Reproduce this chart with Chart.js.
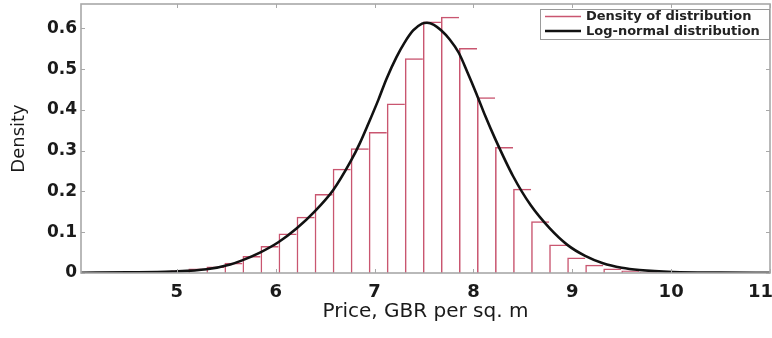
<!DOCTYPE html>
<html><head><meta charset="utf-8">
<script src="https://cdn.jsdelivr.net/npm/chart.js@4.4.1/dist/chart.umd.min.js"></script>
<style>html,body{margin:0;padding:0;background:#fff;}#wrap{width:772px;height:338px;position:relative;}</style>
</head><body><div id="wrap"><canvas id="c"></canvas></div>
<script>
// ---- data ----
const binCenters = [5.025, 5.2075, 5.39, 5.5725, 5.755, 5.9375, 6.12, 6.3025, 6.485, 6.6675,
  6.85, 7.0325, 7.215, 7.3975, 7.58, 7.7625, 7.945, 8.1275, 8.31, 8.4925,
  8.675, 8.8575, 9.04, 9.2225, 9.405, 9.5875, 9.77, 9.9525];
const binDensity = [0.006, 0.011, 0.016, 0.025, 0.042, 0.066, 0.097, 0.138, 0.194, 0.256,
  0.306, 0.346, 0.416, 0.527, 0.617, 0.629, 0.552, 0.431, 0.309, 0.207,
  0.127, 0.070, 0.038, 0.020, 0.011, 0.006, 0.003, 0.0015];
const curveX = [4.03, 4.5, 4.95, 5.30, 5.54, 5.66, 5.84, 6.03, 6.21, 6.39, 6.58, 6.76, 6.85, 6.94,
  7.04, 7.12, 7.22, 7.30, 7.39, 7.48, 7.53, 7.60, 7.67, 7.76, 7.85, 7.94, 8.03, 8.12, 8.22,
  8.40, 8.58, 8.77, 8.95, 9.13, 9.31, 9.50, 9.68, 10.02, 10.5, 11];
const curveY = [0.0007, 0.0015, 0.0035, 0.009, 0.021, 0.031, 0.050, 0.076, 0.109, 0.150, 0.203, 0.275, 0.318, 0.368,
  0.426, 0.476, 0.529, 0.564, 0.595, 0.612, 0.614, 0.609, 0.596, 0.573, 0.541, 0.492, 0.440, 0.385, 0.329,
  0.238, 0.166, 0.110, 0.069, 0.042, 0.024, 0.013, 0.0074, 0.0025, 0.0008, 0.0002];
const xTicks = [5, 6, 7, 8, 9, 10, 11];
const yTicks = [0, 0.1, 0.2, 0.3, 0.4, 0.5, 0.6];
const seriesNames = ['Density of distribution', 'Log-normal distribution'];
const xTitle = 'Price, GBR per sq. m';
const yTitle = 'Density';

const barColor = '#c95670';
const frameColor = '#a8a8a8';

const framePlugin = {
  id: 'frame',
  afterDatasetsDraw(chart) {
    const {ctx, chartArea: a, scales} = chart;
    ctx.save();
    ctx.strokeStyle = frameColor;
    ctx.lineWidth = 1;
    ctx.beginPath();
    xTicks.forEach(v => {
      const px = Math.round(scales.x.getPixelForValue(v)) + 0.5;
      ctx.moveTo(px, a.bottom); ctx.lineTo(px, a.bottom - 4);
      ctx.moveTo(px, a.top); ctx.lineTo(px, a.top + 4);
    });
    yTicks.forEach(v => {
      const py = Math.round(scales.y.getPixelForValue(v)) + 0.5;
      ctx.moveTo(a.left, py); ctx.lineTo(a.left + 4, py);
      ctx.moveTo(a.right, py); ctx.lineTo(a.right - 4, py);
    });
    ctx.stroke();
    ctx.lineWidth = 1.6;
    ctx.strokeRect(a.left, a.top, a.right - a.left, a.bottom - a.top);
    ctx.restore();
  }
};

const legendPlugin = {
  id: 'boxLegend',
  afterDraw(chart) {
    const {ctx} = chart;
    const ds = chart.data.datasets;
    const bx = 540, by = 9, bw = 229, bh = 30;
    ctx.save();
    ctx.fillStyle = '#fff';
    ctx.fillRect(bx, by, bw, bh);
    ctx.strokeStyle = '#9a9a9a';
    ctx.lineWidth = 1;
    ctx.strokeRect(bx + 0.5, by + 0.5, bw, bh);
    const rows = [{d: ds[0], y: 16.5, w: 1.3, c: barColor}, {d: ds[1], y: 31, w: 2.6, c: '#111'}];
    rows.forEach(r => {
      ctx.strokeStyle = r.c; ctx.lineWidth = r.w;
      ctx.beginPath(); ctx.moveTo(545, r.y); ctx.lineTo(581, r.y); ctx.stroke();
      ctx.fillStyle = '#222';
      ctx.font = 'bold 13px "DejaVu Sans"';
      ctx.textBaseline = 'middle';
      ctx.textAlign = 'left';
      ctx.fillText(r.d.label, 586, r.y + 0.5);
    });
    ctx.restore();
  }
};

new Chart(document.getElementById('c'), {
  type: 'bar',
  data: {
    datasets: [
      {
        type: 'bar',
        label: seriesNames[0],
        data: binCenters.map((x, i) => ({x, y: binDensity[i]})),
        backgroundColor: 'rgba(255,255,255,0)',
        borderColor: barColor,
        borderWidth: {top: 1.5, left: 1.5, right: 0, bottom: 0},
        borderSkipped: false,
        inflateAmount: 0,
        barPercentage: 1,
        categoryPercentage: 1,
        order: 1
      },
      {
        type: 'line',
        label: seriesNames[1],
        data: curveX.map((x, i) => ({x, y: curveY[i]})),
        borderColor: '#111',
        borderWidth: 2.6,
        pointRadius: 0,
        fill: false,
        cubicInterpolationMode: 'monotone',
        order: 0
      }
    ]
  },
  options: {
    responsive: true,
    maintainAspectRatio: false,
    animation: false,
    events: [],
    layout: {padding: {left: 0, right: 2, top: 4, bottom: 0}},
    plugins: {legend: {display: false}, tooltip: {enabled: false}},
    scales: {
      x: {
        type: 'linear',
        offset: false,
        min: 4.03, max: 11,
        grid: {display: false, offset: false, drawTicks: false},
        border: {display: false},
        afterBuildTicks: s => { s.ticks = xTicks.map(v => ({value: v})); },
        afterFit: s => { s.height = 65; s.paddingLeft = 0; s.paddingRight = 0; },
        ticks: {
          autoSkip: false, maxRotation: 0, padding: 9,
          color: '#1a1a1a',
          font: {family: '"DejaVu Sans"', size: 18, weight: 'bold'},
          callback: (v, i, arr) => i === arr.length - 1 ? String(v) + '   ' : String(v)
        },
        title: {
          display: true, text: xTitle, color: '#1a1a1a',
          font: {family: '"DejaVu Sans"', size: 20},
          padding: {top: 0, bottom: 14}
        }
      },
      y: {
        min: 0, max: 0.66,
        grid: {display: false, drawTicks: false},
        border: {display: false},
        afterBuildTicks: s => { s.ticks = yTicks.map(v => ({value: v})); },
        afterFit: s => { s.width = 81; s.paddingTop = 0; s.paddingBottom = 0; },
        ticks: {
          padding: 4,
          color: '#1a1a1a',
          font: {family: '"DejaVu Sans"', size: 17, weight: 'bold'},
          callback: v => v === 0 ? '0' : v.toFixed(1)
        },
        title: {
          display: true, text: yTitle, color: '#1a1a1a',
          font: {family: '"DejaVu Sans"', size: 18},
          padding: {top: 9, bottom: 0}
        }
      }
    }
  },
  plugins: [framePlugin, legendPlugin]
});
</script>
</body></html>
